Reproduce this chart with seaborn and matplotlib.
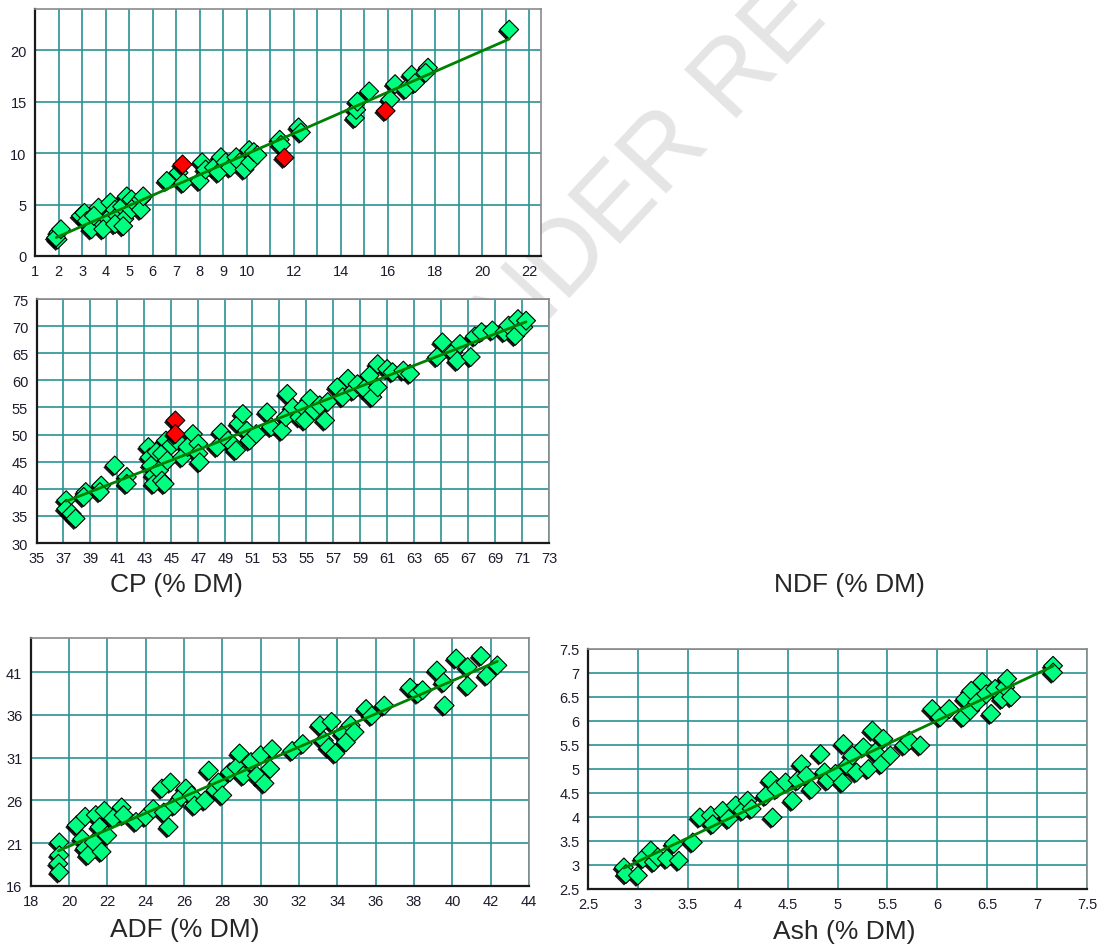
import numpy as np
import pandas as pd
import matplotlib
matplotlib.use('Agg')
import matplotlib.pyplot as plt
import matplotlib.patheffects as pe
import seaborn as sns

# --- Datos (valor de referencia vs. valor predicho) ---
CP_X = [1.96, 2.0, 1.9, 2.1, 2.95, 3.1, 3.2, 3.4, 3.6, 3.7, 3.85, 4.1, 4.2, 4.4, 4.5,
        4.7, 4.8, 4.9, 5.1, 5.1, 5.3, 5.5, 5.5, 5.6, 3.5, 3.9, 4.4, 4.75,
        6.6, 7.1, 7.3, 8.0, 8.1, 8.25, 8.6, 8.8, 8.9, 9.1, 9.3, 9.55, 9.7, 9.9,
        10.1, 10.15, 10.3, 10.45, 11.4, 11.45, 12.2, 12.3,
        14.6, 14.65, 14.7, 15.2, 16.1, 16.3, 16.75, 17.0, 17.15, 17.7, 17.6, 21.15]
CP_Y = [1.6, 2.3, 1.8, 2.6, 3.9, 4.2, 3.4, 2.6, 4.2, 4.7, 3.2, 3.6, 5.2, 4.5, 3.9,
        4.8, 3.6, 5.8, 5.5, 4.5, 5.0, 5.5, 4.5, 5.8, 3.9, 2.6, 3.1, 2.9,
        7.3, 8.1, 7.1, 7.3, 9.1, 8.4, 8.6, 8.1, 9.6, 9.1, 8.6, 9.6, 9.1, 8.4,
        10.3, 9.1, 10.1, 9.8, 11.3, 10.8, 12.5, 12.0,
        13.4, 14.2, 15.0, 16.0, 15.2, 16.7, 16.2, 17.6, 16.8, 18.3, 17.8, 22.0]
CP_OUT_X = [7.27, 11.6, 15.9]
CP_OUT_Y = [8.9, 9.55, 14.1]

NDF_X = [37.2, 37.2, 37.6, 37.9, 38.65, 38.5, 39.8, 39.7, 40.8, 41.7, 41.7,
         43.3, 43.4, 43.5, 43.7, 43.7, 43.9, 44.1, 44.3, 44.3, 44.6, 44.7, 44.5,
         45.0, 45.4, 45.8, 46.2, 46.6, 47.0, 47.0, 47.1,
         48.4, 48.7, 49.2, 49.6, 49.8, 50.0, 50.3, 50.6, 50.8, 51.3,
         52.1, 52.4, 53.2, 53.5, 53.6, 54.0, 54.5, 54.8, 54.9, 55.3, 55.6, 56.0, 56.4, 56.6,
         57.3, 57.7, 58.1, 58.5, 58.8, 59.3, 59.7, 59.9, 60.3, 60.3, 61.0, 61.4, 62.2, 62.7,
         64.7, 65.1, 65.9, 66.2, 66.4, 67.2, 67.5, 68.0, 68.8, 69.7, 70.0, 70.5, 70.7, 71.1, 71.3]
NDF_Y = [37.9, 36.3, 35.4, 34.5, 39.4, 38.5, 40.6, 39.4, 44.3, 42.2, 40.9,
         47.7, 45.8, 44.3, 42.5, 40.9, 46.8, 43.4, 41.5, 46.5, 48.9, 45.2, 40.9,
         48.0, 48.9, 45.8, 47.7, 50.1, 48.3, 46.5, 44.9,
         47.7, 50.4, 48.9, 48.0, 47.1, 52.0, 53.8, 50.7, 48.9, 50.1,
         54.1, 51.4, 50.7, 53.2, 57.5, 55.0, 53.2, 55.0, 52.6, 56.6, 54.4, 55.4, 52.6, 56.0,
         58.7, 56.9, 60.3, 58.1, 59.3, 58.4, 60.9, 56.9, 63.0, 58.7, 62.1, 61.5, 61.8, 61.2,
         64.3, 67.0, 65.2, 63.6, 66.7, 64.3, 68.1, 68.9, 69.2, 68.9, 70.1, 68.2, 71.3, 69.8, 71.0]
NDF_OUT_X = [45.3, 45.3]
NDF_OUT_Y = [52.6, 50.1]

ADF_X = [19.5, 19.5, 19.45, 19.5, 20.4, 20.85, 20.7, 20.85, 21.0, 21.3, 21.4, 21.6,
         21.7, 21.85, 22.0, 22.3, 22.75, 22.85, 23.5, 24.0, 24.4, 24.85, 24.95, 25.2,
         25.3, 25.5, 25.85, 26.1, 26.4, 26.55, 27.1, 27.3, 27.65, 27.8, 28.0, 28.4,
         28.75, 28.9, 29.1, 29.5, 29.8, 30.0, 30.2, 30.5, 30.6, 31.65, 32.2,
         33.1, 33.3, 33.55, 33.7, 33.9, 34.3, 34.45, 34.7, 34.9, 35.5, 35.8, 36.45,
         37.8, 38.2, 38.45, 39.2, 39.55, 39.6, 40.2, 40.8, 40.8, 41.5, 41.8, 42.35]
ADF_Y = [21.1, 19.6, 18.6, 17.6, 23.1, 24.1, 21.5, 20.4, 19.6, 21.1, 24.3, 22.9,
         20.0, 24.8, 21.9, 23.9, 25.2, 24.3, 23.5, 24.1, 25.0, 27.4, 24.6, 22.9,
         28.1, 25.4, 26.4, 27.4, 26.6, 25.4, 26.0, 29.5, 27.2, 28.1, 26.6, 29.3,
         29.9, 31.5, 28.9, 30.5, 28.9, 31.3, 28.0, 29.7, 32.0, 31.8, 32.6,
         34.8, 33.0, 32.2, 35.2, 31.5, 33.8, 32.8, 34.8, 34.0, 36.7, 35.9, 37.1,
         39.2, 38.5, 38.9, 41.2, 39.8, 37.1, 42.6, 41.6, 39.4, 42.9, 40.6, 41.8]

ASH_X = [2.86, 2.88, 3.0, 3.05, 3.13, 3.16, 3.2, 3.29, 3.36, 3.41, 3.55,
         3.62, 3.73, 3.75, 3.85, 3.91, 3.98, 4.05, 4.1, 4.14, 4.28, 4.33, 4.35, 4.39,
         4.48, 4.55, 4.6, 4.64, 4.69, 4.74, 4.83, 4.87, 4.9, 4.98, 5.05, 5.06, 5.1,
         5.15, 5.19, 5.26, 5.31, 5.35, 5.38, 5.44, 5.46, 5.53, 5.67, 5.72, 5.83,
         5.95, 6.03, 6.12, 6.26, 6.28, 6.33, 6.34, 6.4, 6.45, 6.49, 6.54, 6.58,
         6.65, 6.68, 6.7, 6.74, 7.16, 7.16]
ASH_Y = [2.95, 2.81, 2.78, 3.13, 3.3, 3.06, 3.16, 3.13, 3.44, 3.09, 3.47,
         3.99, 4.03, 3.85, 4.13, 3.96, 4.24, 4.13, 4.34, 4.17, 4.44, 4.76, 3.99, 4.58,
         4.72, 4.34, 4.76, 5.1, 4.86, 4.58, 5.31, 4.93, 4.76, 4.9, 4.72, 5.52, 5.07,
         5.28, 4.93, 5.45, 5.0, 5.8, 5.35, 5.1, 5.63, 5.28, 5.49, 5.59, 5.49,
         6.25, 6.08, 6.25, 6.08, 6.46, 6.22, 6.63, 6.39, 6.81, 6.56, 6.15, 6.67,
         6.46, 6.7, 6.88, 6.5, 7.15, 7.01]

# --- Estilo ---
VERDE = '#00ff80'
ROJO = '#ff0000'
LINEA = '#008000'
REJILLA = '#2a9292'
TAM_MARCA = 92
SOMBRA = [pe.SimplePatchShadow(offset=(-1.4, -1.4), shadow_rgbFace='black', alpha=0.9), pe.Normal()]


def etiqueta(v):
    return ('%g' % v)


def dibujar_panel(fig, rect, x, y, xlim, ylim, xticks, yticks, xlabels=None, out_x=None, out_y=None):
    """Dibuja un panel de valores observados vs. predichos con su recta de ajuste."""
    ax = fig.add_axes(rect)
    ax.set_facecolor('white')
    df = pd.DataFrame({'obs': x, 'pred': y})

    sns.scatterplot(data=df, x='obs', y='pred', marker='D', s=TAM_MARCA, color=VERDE,
                    edgecolor='black', linewidth=0.8, ax=ax, zorder=2, legend=False)
    ax.collections[-1].set_path_effects(SOMBRA)

    if out_x is not None:
        sns.scatterplot(x=out_x, y=out_y, marker='D', s=TAM_MARCA, color=ROJO,
                        edgecolor='black', linewidth=0.8, ax=ax, zorder=2, legend=False)
        ax.collections[-1].set_path_effects(SOMBRA)

    # recta de regresión sobre los puntos válidos
    sns.regplot(data=df, x='obs', y='pred', scatter=False, ci=None, color=LINEA,
                line_kws={'linewidth': 2.0, 'zorder': 4}, ax=ax)

    ax.set_xlim(*xlim)
    ax.set_ylim(*ylim)
    ax.set_xticks(xticks)
    ax.set_yticks(yticks)
    if xlabels is None:
        xlabels = [etiqueta(v) for v in xticks]
    ax.set_xticklabels(xlabels)
    ax.set_yticklabels([etiqueta(v) for v in yticks])
    ax.set_xlabel('')
    ax.set_ylabel('')

    ax.grid(True, color=REJILLA, linewidth=1.2)
    ax.set_axisbelow(True)
    ax.tick_params(axis='both', length=4, width=1, color='#404040', labelsize=10.5,
                   labelcolor='#1c1c2c', pad=2)
    for lado in ['top', 'right']:
        ax.spines[lado].set_color('#8a8a8a')
        ax.spines[lado].set_linewidth(1.2)
    for lado in ['left', 'bottom']:
        ax.spines[lado].set_color('#1a1a1a')
        ax.spines[lado].set_linewidth(1.6)
    return ax


if __name__ == "__main__":
    sns.set_style('white')
    plt.rcParams['font.family'] = ['Liberation Sans', 'DejaVu Sans']

    W, H = 1100, 945
    fig = plt.figure(figsize=(W / 100, H / 100), dpi=100)

    # marca de agua de fondo (queda detrás de los paneles)
    fig.text(716 / W, 1 - 102 / H, 'UNDER REVIEW', rotation=47, fontsize=74,
             color='#e5e5e5', ha='center', va='center', zorder=-1)

    def rect(l, t, r, b):
        return [l / W, 1 - b / H, (r - l) / W, (b - t) / H]

    cp_ticks = list(range(1, 23))
    cp_labels = [str(v) if (v <= 10 or v % 2 == 0) else '' for v in cp_ticks]
    dibujar_panel(fig, rect(35, 10, 541, 257), CP_X, CP_Y, (1, 22.5), (0, 24),
                  cp_ticks, [0, 5, 10, 15, 20], cp_labels, CP_OUT_X, CP_OUT_Y)

    dibujar_panel(fig, rect(36.5, 300, 549, 544), NDF_X, NDF_Y, (35, 73), (30, 75),
                  list(range(35, 74, 2)), list(range(30, 76, 5)), None, NDF_OUT_X, NDF_OUT_Y)

    dibujar_panel(fig, rect(30.6, 639, 529, 887), ADF_X, ADF_Y, (18, 44), (16, 45),
                  list(range(18, 45, 2)), [16, 21, 26, 31, 36, 41])

    ash_ticks = list(np.arange(2.5, 7.51, 0.5))
    dibujar_panel(fig, rect(588, 650, 1087, 890), ASH_X, ASH_Y, (2.5, 7.5), (2.5, 7.5),
                  ash_ticks, ash_ticks)

    # títulos de cada variable
    fig.text(176 / W, 1 - 585 / H, 'CP (% DM)', ha='center', va='center', fontsize=19)
    fig.text(849 / W, 1 - 585 / H, 'NDF (% DM)', ha='center', va='center', fontsize=19)
    fig.text(185 / W, 1 - 930 / H, 'ADF (% DM)', ha='center', va='center', fontsize=19)
    fig.text(844 / W, 1 - 932 / H, 'Ash (% DM)', ha='center', va='center', fontsize=19)

    fig.savefig('out.png', dpi=100)
    plt.close(fig)
